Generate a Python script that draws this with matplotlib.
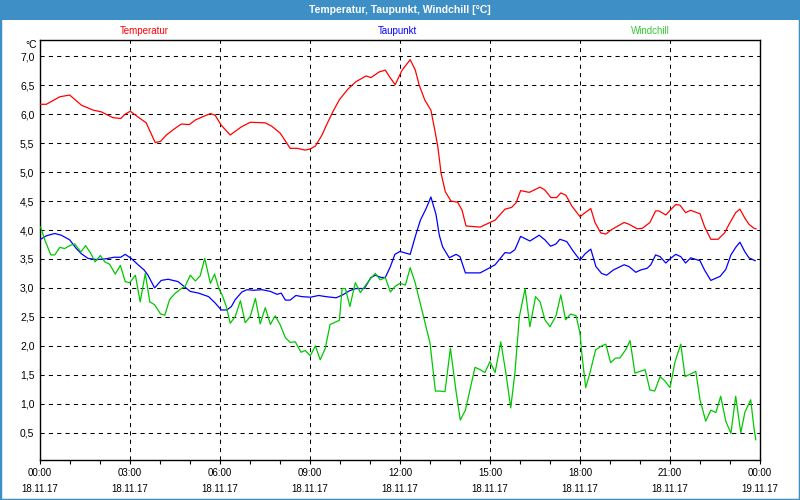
import matplotlib
matplotlib.use("Agg")
import matplotlib.pyplot as plt
from matplotlib.patches import Rectangle
from matplotlib.ticker import FuncFormatter, MultipleLocator

# hours since 18.11.17 00:00, values in degC
temp_h = [0.02, 0.21, 0.66, 0.99, 1.38, 1.77, 2.04, 2.43, 2.69, 2.84, 3.01, 3.27, 3.54, 3.84,
          4.02, 4.21, 4.49, 4.71, 4.98, 5.18, 5.40, 5.68, 5.84, 6.04, 6.34, 6.71, 7.01, 7.51,
          7.73, 8.01, 8.34, 8.57, 8.84, 9.01, 9.18, 9.40, 9.53, 9.76, 9.98, 10.26, 10.53, 10.87,
          11.03, 11.31, 11.51, 11.67, 11.84, 12.07, 12.34, 12.51, 12.64, 12.83, 13.03, 13.14,
          13.26, 13.37, 13.51, 13.70, 13.92, 14.07, 14.20, 14.67, 15.00, 15.17, 15.50, 15.72,
          15.87, 16.02, 16.31, 16.67, 16.83, 17.03, 17.22, 17.36, 17.53, 17.72, 18.00, 18.17,
          18.36, 18.50, 18.69, 18.86, 19.06, 19.47, 19.63, 19.91, 20.08, 20.33, 20.52, 20.63,
          20.86, 21.04, 21.19, 21.33, 21.52, 21.69, 22.00, 22.15, 22.36, 22.60, 22.82, 22.97,
          23.19, 23.33, 23.49, 23.63, 23.80, 23.87]
temp_c = [6.17, 6.17, 6.30, 6.33, 6.155, 6.07, 6.04, 5.94, 5.925, 6.00, 6.05, 5.95, 5.85, 5.51,
          5.53, 5.64, 5.75, 5.83, 5.82, 5.90, 5.95, 6.01, 5.98, 5.81, 5.64, 5.78, 5.86, 5.85,
          5.79, 5.67, 5.41, 5.41, 5.38, 5.40, 5.45, 5.64, 5.79, 6.04, 6.25, 6.43, 6.56, 6.66,
          6.63, 6.73, 6.76, 6.63, 6.51, 6.76, 6.94, 6.76, 6.50, 6.24, 6.07, 5.78,
          5.44, 4.98, 4.66, 4.50, 4.48, 4.34, 4.07, 4.05, 4.13, 4.17, 4.36, 4.39,
          4.47, 4.68, 4.65, 4.74, 4.69, 4.56, 4.56, 4.64, 4.60, 4.42, 4.23, 4.30,
          4.37, 4.13, 3.95, 3.93, 4.01, 4.13, 4.10, 4.02, 4.03, 4.13, 4.33, 4.33,
          4.26, 4.36, 4.44, 4.43, 4.30, 4.34, 4.28, 4.06, 3.84, 3.84, 3.95, 4.10,
          4.30, 4.36, 4.21, 4.10, 4.03, 4.02]

dew_h = [0.02, 0.21, 0.49, 0.71, 0.99, 1.21, 1.38, 1.60, 1.88, 2.16, 2.47, 2.69, 2.84, 3.04,
         3.27, 3.47, 3.60, 3.82, 4.04, 4.27, 4.60, 5.01, 5.29, 5.62, 5.84, 6.04, 6.23, 6.38,
         6.51, 6.73, 6.90, 7.12, 7.40, 7.68, 7.90, 8.04, 8.18, 8.34, 8.53, 8.73, 9.01, 9.29,
         9.53, 9.87, 10.09, 10.31, 10.53, 10.81, 11.03, 11.18, 11.37, 11.51, 11.68, 11.83,
         12.00, 12.20, 12.34, 12.51, 12.68, 12.87, 13.03, 13.20, 13.31, 13.42, 13.64, 13.87,
         14.00, 14.18, 14.67, 14.89, 15.17, 15.50, 15.67, 15.83, 16.02, 16.33, 16.64, 16.83,
         17.02, 17.20, 17.33, 17.56, 17.78, 18.00, 18.17, 18.36, 18.53, 18.72, 18.89, 19.11,
         19.47, 19.63, 19.86, 20.02, 20.24, 20.36, 20.52, 20.67, 20.86, 21.02, 21.19, 21.36,
         21.52, 21.69, 22.00, 22.15, 22.36, 22.67, 22.86, 23.03, 23.19, 23.33, 23.49, 23.63,
         23.80, 23.84]
dew_c = [3.84, 3.90, 3.94, 3.91, 3.83, 3.68, 3.59, 3.51, 3.49, 3.50, 3.53, 3.53, 3.58, 3.51,
         3.40, 3.31, 3.22, 3.00, 3.13, 3.15, 3.11, 2.94, 2.91, 2.85, 2.74, 2.62, 2.62, 2.68,
         2.80, 2.93, 2.97, 2.96, 2.97, 2.94, 2.89, 2.91, 2.79, 2.79, 2.87, 2.85, 2.84, 2.87,
         2.85, 2.83, 2.88, 2.95, 2.99, 2.99, 3.18, 3.22, 3.18, 3.18, 3.37, 3.58,
         3.63, 3.60, 3.58, 3.89, 4.17, 4.37, 4.57, 4.27, 3.91, 3.71, 3.52, 3.58,
         3.54, 3.26, 3.26, 3.32, 3.40, 3.61, 3.60, 3.66, 3.89, 3.81, 3.91, 3.83,
         3.72, 3.76, 3.84, 3.80, 3.63, 3.48, 3.59, 3.67, 3.37, 3.25, 3.22, 3.31,
         3.40, 3.37, 3.27, 3.31, 3.34, 3.40, 3.57, 3.54, 3.43, 3.51, 3.58, 3.54,
         3.43, 3.52, 3.47, 3.31, 3.13, 3.20, 3.32, 3.57, 3.70, 3.79, 3.63, 3.52,
         3.48, 3.47]

chill_h = [0.02, 0.16, 0.36, 0.49, 0.66, 0.82, 0.99, 1.16, 1.36, 1.52, 1.69, 1.84, 2.01, 2.16,
           2.32, 2.51, 2.68, 2.84, 2.99, 3.18, 3.34, 3.51, 3.66, 3.82, 4.02, 4.16, 4.32, 4.49,
           4.71, 4.84, 5.01, 5.18, 5.34, 5.49, 5.68, 5.82, 5.96, 6.07, 6.21, 6.34, 6.51, 6.68,
           6.84, 7.01, 7.18, 7.34, 7.51, 7.68, 7.84, 8.01, 8.18, 8.34, 8.51, 8.70, 8.84, 9.01,
           9.18, 9.34, 9.51, 9.67, 9.98, 10.07, 10.18, 10.33, 10.51, 10.68, 10.87, 11.03, 11.18,
           11.34, 11.51, 11.68, 11.84, 12.00, 12.18, 12.34, 12.51, 12.70, 12.84, 13.00, 13.18,
           13.33, 13.50, 13.68, 13.87, 14.01, 14.18, 14.50, 14.67, 14.83, 15.00, 15.17, 15.36,
           15.53, 15.69, 15.83, 15.98, 16.17, 16.33, 16.52, 16.67, 16.83, 17.00, 17.20, 17.36,
           17.52, 17.69, 17.87, 18.00, 18.06, 18.19, 18.33, 18.52, 18.69, 18.86, 19.02, 19.19,
           19.33, 19.52, 19.67, 19.83, 20.00, 20.17, 20.33, 20.49, 20.67, 20.82, 21.00, 21.17,
           21.36, 21.50, 21.67, 21.86, 22.00, 22.19, 22.36, 22.53, 22.69, 22.86, 23.03, 23.19,
           23.36, 23.50, 23.69, 23.80, 23.86]
chill_c = [4.05, 3.83, 3.57, 3.57, 3.70, 3.68, 3.73, 3.76, 3.62, 3.73, 3.60, 3.45, 3.56, 3.45,
           3.41, 3.24, 3.39, 3.11, 3.09, 3.22, 2.76, 3.25, 2.76, 2.71, 2.55, 2.53, 2.80, 2.90,
           2.99, 3.03, 3.22, 3.12, 3.21, 3.51, 3.08, 3.24, 2.99, 2.88, 2.68, 2.39, 2.51, 2.78,
           2.40, 2.51, 2.82, 2.38, 2.66, 2.37, 2.52, 2.36, 2.14, 2.06, 2.07, 1.89, 1.92, 1.83,
           2.00, 1.76, 1.96, 2.37, 2.44, 2.99, 2.99, 2.68, 3.09, 2.92, 3.06, 3.17, 3.25,
           3.14, 3.18, 2.93, 3.03, 3.08, 3.05, 3.35, 3.08, 2.68, 2.39, 2.05, 1.22,
           1.22, 1.21, 1.96, 1.21, 0.72, 0.89, 1.63, 1.59, 1.54, 1.73, 1.54, 2.07,
           1.53, 0.93, 1.53, 2.51, 2.99, 2.33, 2.85, 2.76, 2.45, 2.33, 2.52, 2.88,
           2.45, 2.55, 2.52, 2.22, 1.87, 1.28, 1.53, 1.93, 1.99, 2.03, 1.71, 1.79,
           1.79, 1.93, 2.09, 1.53, 1.56, 1.59, 1.24, 1.22, 1.47, 1.40, 1.28, 1.73,
           2.03, 1.47, 1.51, 1.56, 1.07, 0.70, 0.89, 0.85, 1.13, 0.70, 0.49, 1.13,
           0.50, 0.86, 1.07, 0.58, 0.38]

x_ticks = [0, 3, 6, 9, 12, 15, 18, 21, 24]
x_labels = ["00:00\n18.11.17", "03:00\n18.11.17", "06:00\n18.11.17", "09:00\n18.11.17",
            "12:00\n18.11.17", "15:00\n18.11.17", "18:00\n18.11.17", "21:00\n18.11.17",
            "00:00\n19.11.17"]
series_names = ["Temperatur", "Taupunkt", "Windchill"]

BAR_BLUE = "#3d8fc6"
plt.rcParams["font.family"] = ["Liberation Sans", "DejaVu Sans"]

fig = plt.figure(figsize=(8, 5), dpi=100, facecolor="white")
ax = fig.add_axes([0.05, 0.08, 0.90, 0.84])

ax.plot(temp_h, temp_c, color="#ff0000", lw=0.9, zorder=3)
ax.plot(dew_h, dew_c, color="#0000ff", lw=0.9, zorder=3)
ax.plot(chill_h, chill_c, color="#00c800", lw=0.9, zorder=3)

ax.set_xlim(0, 24)
ax.set_ylim(0.03, 7.28)
ax.set_xticks(x_ticks)
ax.set_xticklabels(x_labels, fontsize=7, linespacing=1.75)
ax.xaxis.set_minor_locator(MultipleLocator(1))
ax.yaxis.set_major_locator(MultipleLocator(0.5))
ax.yaxis.set_major_formatter(FuncFormatter(lambda v, p: f"{v:.1f}".replace(".", ",")))
ax.tick_params(axis="x", which="both", direction="out", length=3, width=0.8, pad=3)
ax.tick_params(axis="y", length=0, pad=4, labelsize=7.5)
ax.grid(True, which="major", color="black", linestyle=(0, (4, 4)), linewidth=0.75)
for s in ax.spines.values():
    s.set_linewidth(1.0)

fig.text(37 / 800, 1 - 45 / 500, "°C", ha="right", va="center", fontsize=7.5)

# legend names above the plot
fig.text(144 / 800, 1 - 31 / 500, series_names[0], color="#ff0000", ha="center", va="center", fontsize=7)
fig.text(397 / 800, 1 - 31 / 500, series_names[1], color="#0000ff", ha="center", va="center", fontsize=7)
fig.text(650 / 800, 1 - 31 / 500, series_names[2], color="#33cc33", ha="center", va="center", fontsize=7)

# title bar and window frame
fig.add_artist(Rectangle((0, 1 - 20 / 500), 1, 20 / 500, transform=fig.transFigure,
                         facecolor=BAR_BLUE, edgecolor="none", zorder=0))
fig.add_artist(Rectangle((0, 0), 1, 1, transform=fig.transFigure, fill=False,
                         edgecolor=BAR_BLUE, lw=2.5, zorder=5))
fig.text(0.5, 1 - 10 / 500, "Temperatur, Taupunkt, Windchill [°C]", color="white",
         ha="center", va="center", fontsize=7.5, fontweight="bold")

fig.savefig("out.png", dpi=100)
